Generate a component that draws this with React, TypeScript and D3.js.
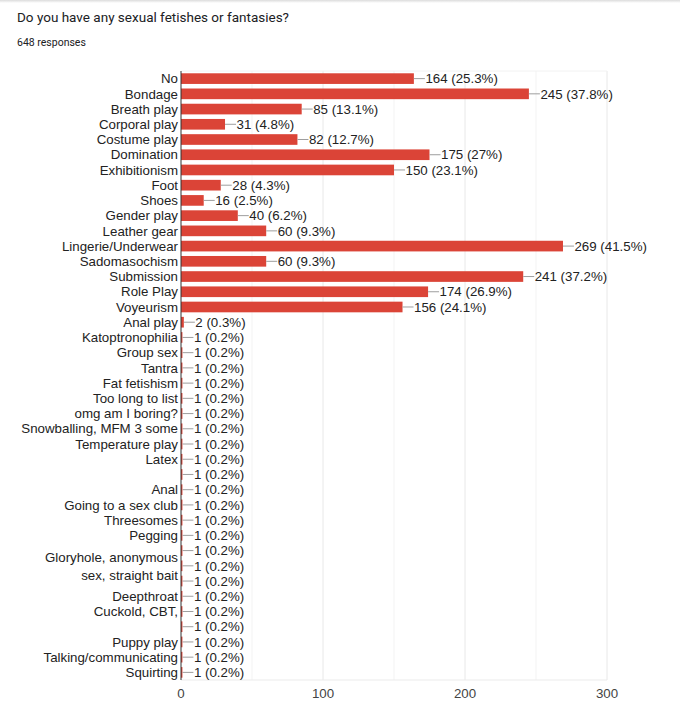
import React from "react";
import * as d3 from "d3";

const categories: string[] = [
  "No", "Bondage", "Breath play", "Corporal play", "Costume play", "Domination",
  "Exhibitionism", "Foot", "Shoes", "Gender play", "Leather gear", "Lingerie/Underwear",
  "Sadomasochism", "Submission", "Role Play", "Voyeurism", "Anal play", "Katoptronophilia",
  "Group sex", "Tantra", "Fat fetishism", "Too long to list", "omg am I boring?",
  "Snowballing, MFM 3 some", "Temperature play", "Latex", "", "Anal", "Going to a sex club",
  "Threesomes", "Pegging", "", "Gloryhole, anonymous\nsex, straight bait", "", "Deepthroat",
  "Cuckold, CBT,", "", "Puppy play", "Talking/communicating", "Squirting",
];

const values: number[] = [
  164, 245, 85, 31, 82, 175, 150, 28, 16, 40, 60, 269, 60, 241, 174, 156, 2, 1,
  1, 1, 1, 1, 1, 1, 1, 1, 1, 1, 1, 1, 1, 1, 1, 1, 1, 1, 1, 1, 1, 1,
];

const totalResponses = 648;
const xTicks: number[] = [0, 100, 200, 300];
const xGrid: number[] = [50, 100, 150, 200, 250, 300];

const title = "Do you have any sexual fetishes or fantasies?";
const subtitle = `${totalResponses} responses`;

const W = 680;
const H = 702;
const plot = { left: 181, right: 607, top: 71, bottom: 680 };

export default function App() {
  const ids = categories.map((_, i) => `r${i}`);
  const x = d3.scaleLinear().domain([0, 300]).range([plot.left, plot.right]);
  const y = d3
    .scaleBand<string>()
    .domain(ids)
    .range([plot.top, plot.bottom])
    .paddingInner(0.3)
    .paddingOuter(0.15);
  const fmtPct = (v: number) => {
    const s = d3.format(".1f")((v / totalResponses) * 100);
    return s.endsWith(".0") ? s.slice(0, -2) : s;
  };
  const font = "Arial, 'Liberation Sans', sans-serif";
  const fs = 13.3;

  return (
    <svg
      width={W}
      height={H}
      style={{ position: "absolute", left: 0, top: 0, background: "#fff" }}
    >
      <defs>
        <linearGradient id="shadow" x1="0" y1="0" x2="0" y2="1">
          <stop offset="0" stopColor="#dcdcdc" />
          <stop offset="1" stopColor="#ffffff" />
        </linearGradient>
      </defs>
      <rect x={0} y={0} width={W} height={3} fill="url(#shadow)" />
      <text x={17} y={22} fontFamily="Roboto, Arial, sans-serif" fontSize={13.5} fill="#202124">
        {title}
      </text>
      <text x={17} y={45.5} fontFamily="Roboto, Arial, sans-serif" fontSize={10.5} fill="#202124">
        {subtitle}
      </text>

      {/* grid */}
      {xGrid.map((t) => (
        <line
          key={`g${t}`}
          x1={x(t)}
          x2={x(t)}
          y1={plot.top}
          y2={plot.bottom}
          stroke={t % 100 === 0 ? "#e8e8e8" : "#f3f3f3"}
          strokeWidth={1}
        />
      ))}
      <line x1={plot.left} x2={plot.right} y1={plot.top} y2={plot.top} stroke="#f2f2f2" />
      <line x1={plot.left} x2={plot.right} y1={plot.bottom} y2={plot.bottom} stroke="#ebebeb" />

      {/* bars */}
      {values.map((v, i) => {
        const yy = y(ids[i]) as number;
        const bw = y.bandwidth();
        const xe = x(v);
        const cy = yy + bw / 2;
        return (
          <g key={ids[i]}>
            <rect x={plot.left} y={yy} width={xe - plot.left} height={bw} fill="#db4437" />
            <line x1={xe} x2={xe + 11} y1={cy} y2={cy} stroke="#9e9e9e" strokeWidth={1} />
            <text x={xe + 11.5} y={cy + 4.7} fontFamily={font} fontSize={fs} fill="#222">
              {`${v} (${fmtPct(v)}%)`}
            </text>
          </g>
        );
      })}

      {/* y labels */}
      {categories.map((c, i) => {
        if (!c) return null;
        const cy = (y(ids[i]) as number) + y.bandwidth() / 2;
        const lines = c.split("\n");
        const lh = 18;
        const start = cy - ((lines.length - 1) * lh) / 2;
        return (
          <text key={`l${i}`} x={178} textAnchor="end" fontFamily={font} fontSize={fs} fill="#222">
            {lines.map((ln, k) => (
              <tspan key={k} x={178} y={start + k * lh + 4.7}>
                {ln}
              </tspan>
            ))}
          </text>
        );
      })}

      {/* axis line */}
      <line x1={plot.left} x2={plot.left} y1={plot.top} y2={plot.bottom} stroke="#333" strokeWidth={1} />

      {/* x ticks */}
      {xTicks.map((t) => (
        <text
          key={`t${t}`}
          x={x(t)}
          y={698}
          textAnchor="middle"
          fontFamily={font}
          fontSize={fs}
          fill="#444"
        >
          {t}
        </text>
      ))}
    </svg>
  );
}
